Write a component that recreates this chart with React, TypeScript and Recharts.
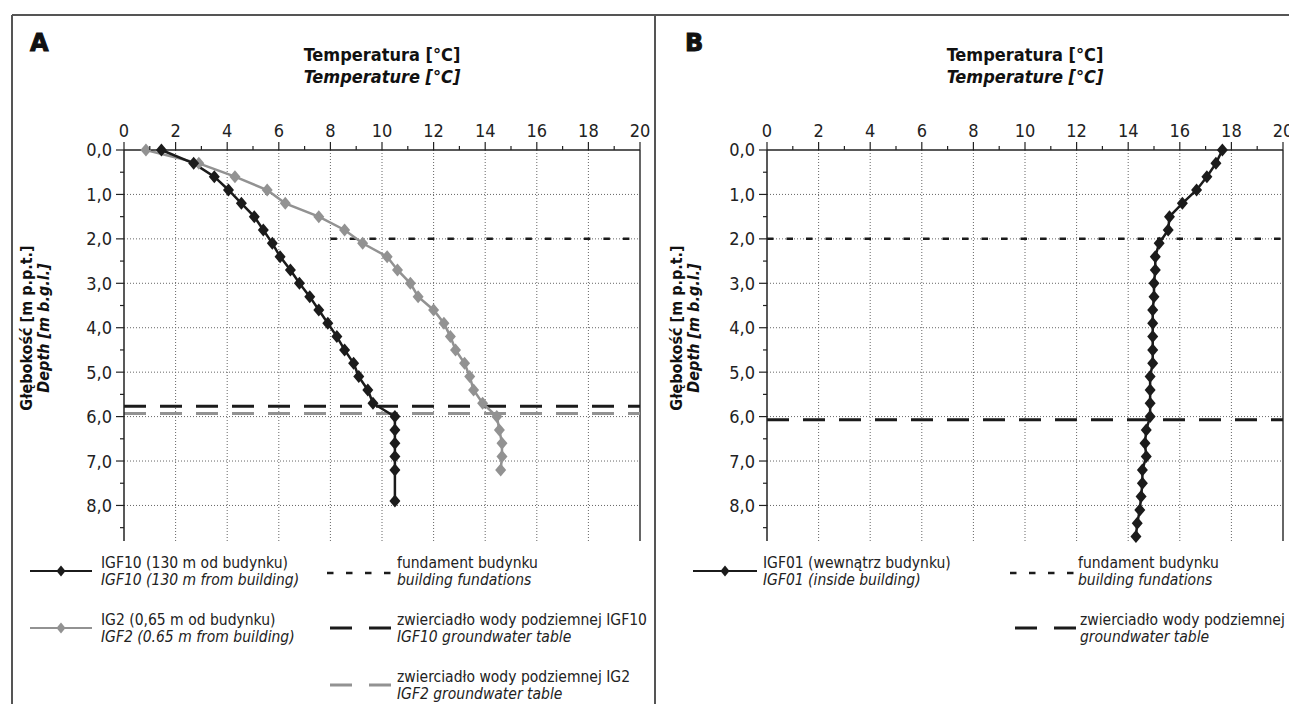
import React from "react";
import {
  ComposedChart,
  Line,
  XAxis,
  YAxis,
  CartesianGrid,
  ReferenceLine,
} from "recharts";

const FONT =
  "'Liberation Sans Narrow', 'DejaVu Sans Condensed', 'Roboto Condensed', 'Liberation Sans', sans-serif";

// axis ticks and grid positions
const tempTicks = [0, 1, 2, 3, 4, 5, 6, 7, 8, 9, 10, 11, 12, 13, 14, 15, 16, 17, 18, 19, 20];
const tempGrid = [2, 4, 6, 8, 10, 12, 14, 16, 18];
const depthTicks = [0, 0.5, 1, 1.5, 2, 2.5, 3, 3.5, 4, 4.5, 5, 5.5, 6, 6.5, 7, 7.5, 8, 8.5];
const depthGrid = [1, 2, 3, 4, 5, 6, 7, 8];

// panel A: IGF10 (130 m from building)
const igf10Depth = [0, 0.3, 0.6, 0.9, 1.2, 1.5, 1.8, 2.1, 2.4, 2.7, 3.0, 3.3, 3.6, 3.9, 4.2, 4.5, 4.8, 5.1, 5.4, 5.7, 6.0, 6.3, 6.6, 6.9, 7.2, 7.9];
const igf10Temp = [1.45, 2.7, 3.5, 4.05, 4.55, 5.05, 5.4, 5.75, 6.05, 6.45, 6.8, 7.2, 7.55, 7.9, 8.25, 8.55, 8.9, 9.1, 9.45, 9.65, 10.5, 10.5, 10.5, 10.5, 10.5, 10.5];

// panel A: IG2 (0.65 m from building)
const ig2Depth = [0, 0.3, 0.6, 0.9, 1.2, 1.5, 1.8, 2.1, 2.4, 2.7, 3.0, 3.3, 3.6, 3.9, 4.2, 4.5, 4.8, 5.1, 5.4, 5.7, 6.0, 6.3, 6.6, 6.9, 7.2];
const ig2Temp = [0.85, 2.9, 4.3, 5.55, 6.25, 7.55, 8.55, 9.25, 10.2, 10.6, 11.1, 11.4, 12.0, 12.4, 12.65, 12.85, 13.2, 13.4, 13.55, 13.9, 14.45, 14.55, 14.65, 14.65, 14.6];

// panel B: IGF01 (inside building)
const igf01Depth = [0, 0.3, 0.6, 0.9, 1.2, 1.5, 1.8, 2.1, 2.4, 2.7, 3.0, 3.3, 3.6, 3.9, 4.2, 4.5, 4.8, 5.1, 5.4, 5.7, 6.0, 6.3, 6.6, 6.9, 7.2, 7.5, 7.8, 8.1, 8.4, 8.7];
const igf01Temp = [17.65, 17.4, 17.05, 16.65, 16.1, 15.6, 15.55, 15.2, 15.05, 15.05, 15.0, 15.0, 14.95, 14.95, 14.95, 14.95, 14.95, 14.85, 14.85, 14.85, 14.85, 14.7, 14.65, 14.7, 14.55, 14.55, 14.5, 14.45, 14.35, 14.3];

// reference levels [m]
const foundationDepth = 2.0;
const foundationFromA = 8;
const waterIgf10 = 5.77;
const waterIg2 = 5.93;
const waterIgf01 = 6.07;

const BLACK = "#1b1b1b";
const GREY = "#929292";

type Pt = { t: number; d: number };
const toPoints = (temps: number[], depths: number[]): Pt[] =>
  temps.map((t, i) => ({ t, d: depths[i] }));

const diamondDot = (fill: string) => (p: any) => {
  const { cx, cy, index } = p;
  if (cx == null || cy == null) return <g key={index} />;
  return (
    <polygon
      key={index}
      points={`${cx},${cy - 6.5} ${cx + 5.5},${cy} ${cx},${cy + 6.5} ${cx - 5.5},${cy}`}
      fill={fill}
    />
  );
};

const XTick = (props: any) => {
  const { x, y, payload } = props;
  const v = payload.value;
  const major = v % 2 === 0;
  return (
    <g>
      <line x1={x} y1={y} x2={x} y2={y - (major ? 8 : 4)} stroke="#222" strokeWidth={1.2} />
      {major && (
        <text x={x} y={y - 13} textAnchor="middle" fontSize={18} fill="#222" fontFamily={FONT}>
          {v}
        </text>
      )}
    </g>
  );
};

const YTick = (props: any) => {
  const { x, y, payload } = props;
  const v = payload.value;
  const major = Number.isInteger(v);
  return (
    <g>
      <line x1={x} y1={y} x2={x - (major ? 8 : 4)} y2={y} stroke="#222" strokeWidth={1.2} />
      {major && (
        <text x={x - 12} y={y} dy="0.36em" textAnchor="end" fontSize={18} fill="#222" fontFamily={FONT}>
          {v.toFixed(1).replace(".", ",")}
        </text>
      )}
    </g>
  );
};

function Panel({ left, children }: { left: number; children: React.ReactNode }) {
  return (
    <div style={{ position: "absolute", left, top: 0 }}>
      <ComposedChart width={660} height={560} margin={{ top: 120, right: 20, bottom: 19, left: 64 }}>
        <CartesianGrid
          stroke="#666"
          strokeDasharray="1 2"
          verticalValues={tempGrid}
          horizontalValues={depthGrid}
        />
        <XAxis
          type="number"
          dataKey="t"
          orientation="top"
          domain={[0, 20]}
          ticks={tempTicks}
          interval={0}
          height={30}
          tickSize={0}
          tickMargin={0}
          tickLine={false}
          axisLine={{ stroke: "#222", strokeWidth: 1.5 }}
          tick={<XTick />}
        />
        <YAxis
          type="number"
          dataKey="d"
          domain={[0, 8.8]}
          reversed
          ticks={depthTicks}
          interval={0}
          width={60}
          tickSize={0}
          tickMargin={0}
          tickLine={false}
          axisLine={{ stroke: "#222", strokeWidth: 1.5 }}
          tick={<YTick />}
        />
        <ReferenceLine x={20} stroke="#333" strokeWidth={1.5} />
        {children}
      </ComposedChart>
    </div>
  );
}

function LegendRow({
  x,
  y,
  sample,
  line1,
  line2,
}: {
  x: number;
  y: number;
  sample: React.ReactNode;
  line1: string;
  line2: string;
}) {
  return (
    <g>
      {sample}
      <text x={x} y={y - 3} fontSize={15.5} fill="#222">
        {line1}
      </text>
      <text x={x} y={y + 14} fontSize={15.5} fill="#222" fontStyle="italic">
        {line2}
      </text>
    </g>
  );
}

const seriesSample = (x1: number, x2: number, y: number, color: string) => (
  <g>
    <line x1={x1} y1={y} x2={x2} y2={y} stroke={color} strokeWidth={2.2} />
    <polygon
      points={`${(x1 + x2) / 2},${y - 5.5} ${(x1 + x2) / 2 + 4.5},${y} ${(x1 + x2) / 2},${y + 5.5} ${(x1 + x2) / 2 - 4.5},${y}`}
      fill={color}
    />
  </g>
);

const dashSample = (x1: number, x2: number, y: number, color: string, dash: string, w: number) => (
  <line x1={x1} y1={y} x2={x2} y2={y} stroke={color} strokeWidth={w} strokeDasharray={dash} />
);

export default function App() {
  const igf10 = toPoints(igf10Temp, igf10Depth);
  const ig2 = toPoints(ig2Temp, ig2Depth);
  const igf01 = toPoints(igf01Temp, igf01Depth);

  return (
    <div
      style={{
        position: "absolute",
        left: 0,
        top: 0,
        width: 1289,
        height: 704,
        overflow: "hidden",
        background: "#fff",
        fontFamily: FONT,
      }}
    >
      <Panel left={0}>
        <ReferenceLine
          segment={[
            { x: foundationFromA, y: foundationDepth },
            { x: 20, y: foundationDepth },
          ]}
          stroke={BLACK}
          strokeWidth={2.5}
          strokeDasharray="6.5 13"
        />
        <ReferenceLine y={waterIgf10} stroke={BLACK} strokeWidth={3} strokeDasharray="22 14" />
        <ReferenceLine y={waterIg2} stroke={GREY} strokeWidth={3} strokeDasharray="22 14" />
        <Line
          data={ig2}
          dataKey="d"
          stroke={GREY}
          strokeWidth={2.5}
          dot={diamondDot(GREY)}
          isAnimationActive={false}
        />
        <Line
          data={igf10}
          dataKey="d"
          stroke={BLACK}
          strokeWidth={2.5}
          dot={diamondDot(BLACK)}
          isAnimationActive={false}
        />
      </Panel>

      <Panel left={643}>
        <ReferenceLine y={foundationDepth} stroke={BLACK} strokeWidth={2.5} strokeDasharray="6.5 13" />
        <ReferenceLine y={waterIgf01} stroke={BLACK} strokeWidth={3} strokeDasharray="22 14" />
        <Line
          data={igf01}
          dataKey="d"
          stroke={BLACK}
          strokeWidth={2.5}
          dot={diamondDot(BLACK)}
          isAnimationActive={false}
        />
      </Panel>

      <svg
        width={1289}
        height={704}
        style={{ position: "absolute", left: 0, top: 0, pointerEvents: "none" }}
        fontFamily={FONT}
      >
        {/* frame */}
        <line x1={12} y1={15} x2={1289} y2={15} stroke="#555" strokeWidth={2} />
        <line x1={12} y1={15} x2={12} y2={704} stroke="#555" strokeWidth={2} />
        <line x1={655} y1={15} x2={655} y2={704} stroke="#555" strokeWidth={2} />

        {/* panel letters */}
        <text x={30} y={51} fontSize={24} fontWeight="bold" fontFamily="'DejaVu Sans', sans-serif" stroke="#111" strokeWidth={1} fill="#111">
          A
        </text>
        <text x={685} y={51} fontSize={24} fontWeight="bold" fontFamily="'DejaVu Sans', sans-serif" stroke="#111" strokeWidth={1} fill="#111">
          B
        </text>

        {/* titles */}
        {[382, 1025].map((cx) => (
          <g key={cx}>
            <text x={cx} y={61} textAnchor="middle" fontSize={18} fontWeight="bold" fill="#111">
              Temperatura [°C]
            </text>
            <text x={cx} y={83} textAnchor="middle" fontSize={18} fontWeight="bold" fontStyle="italic" fill="#111">
              Temperature  [°C]
            </text>
          </g>
        ))}

        {/* depth axis labels */}
        {[0, 650].map((dx) => (
          <g key={dx}>
            <text
              transform={`translate(${32 + dx},328) rotate(-90)`}
              textAnchor="middle"
              fontSize={16}
              fontWeight="bold"
              fill="#111"
            >
              Głębokość [m p.p.t.]
            </text>
            <text
              transform={`translate(${49 + dx},328) rotate(-90)`}
              textAnchor="middle"
              fontSize={16}
              fontWeight="bold"
              fontStyle="italic"
              fill="#111"
            >
              Depth  [m b.g.l.]
            </text>
          </g>
        ))}

        {/* legend A */}
        <LegendRow x={101} y={571} sample={seriesSample(30, 92, 571, BLACK)} line1="IGF10 (130 m od budynku)" line2="IGF10 (130 m from building)" />
        <LegendRow x={101} y={628} sample={seriesSample(30, 92, 628, GREY)} line1="IG2 (0,65 m od budynku)" line2="IGF2 (0.65 m from building)" />
        <LegendRow x={397} y={571} sample={dashSample(327, 391, 573, BLACK, "6.5 12.5", 2.5)} line1="fundament budynku" line2="building fundations" />
        <LegendRow x={397} y={628} sample={dashSample(330, 391, 628, BLACK, "22 17", 3)} line1="zwierciadło wody podziemnej IGF10" line2="IGF10 groundwater table" />
        <LegendRow x={397} y={685} sample={dashSample(330, 391, 685, GREY, "22 17", 3)} line1="zwierciadło wody podziemnej IG2" line2="IGF2 groundwater table" />

        {/* legend B */}
        <LegendRow x={763} y={571} sample={seriesSample(693, 757, 571, BLACK)} line1="IGF01 (wewnątrz budynku)" line2="IGF01 (inside building)" />
        <LegendRow x={1078} y={571} sample={dashSample(1010, 1076, 573, BLACK, "6.5 12.5", 2.5)} line1="fundament budynku" line2="building fundations" />
        <LegendRow x={1080} y={628} sample={dashSample(1015, 1076, 628, BLACK, "22 17", 3)} line1="zwierciadło wody podziemnej" line2="groundwater table" />
      </svg>
    </div>
  );
}
